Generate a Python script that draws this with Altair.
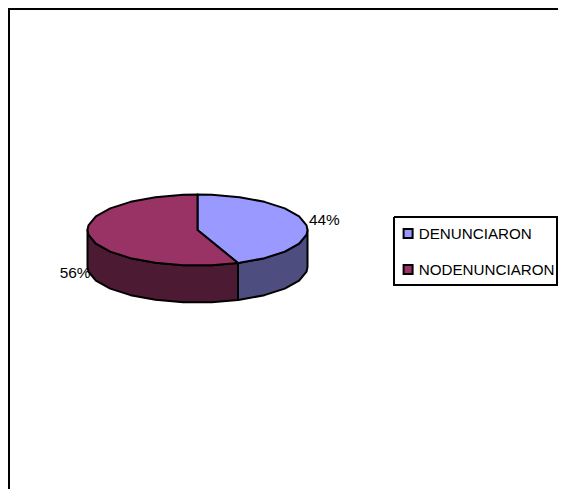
import math
import altair as alt

categories = ["DENUNCIARON", "NODENUNCIARON"]
shares = [44, 56]
labels = ["44%", "56%"]
top_colors = ["#9999FF", "#993366"]
wall_colors = ["#4D4D80", "#4D1A33"]

# layout, in page pixels
CX, CY, RX, RY, DEPTH = 197.5, 230, 110, 35.5, 37
STEP = 15


def pt(deg, dy=0):
    a = math.radians(deg)
    return [CX + RX * math.sin(a), CY - RY * math.cos(a) + dy]


def arc(a0, a1, dy=0):
    grid = sorted([STEP / 2 + STEP * k for k in range(24)] + [90, 270])
    angles = [a0] + [g for g in grid if a0 < g < a1] + [a1]
    return [pt(a, dy) for a in angles]


def feature(kind, coords, name, fill):
    return {"type": "Feature", "properties": {"name": name, "fill": fill},
            "geometry": {"type": kind, "coordinates": coords}}


bounds = [0]
for s in shares:
    bounds.append(bounds[-1] + s * 3.6)

tops = []
walls = []
for i, name in enumerate(categories):
    a0, a1 = bounds[i], bounds[i + 1]
    ring = [[CX, CY]] + arc(a0, a1) + [[CX, CY]]
    tops.append(feature("Polygon", [ring], name, top_colors[i]))
    w0, w1 = max(a0, 90), min(a1, 270)
    wall = arc(w0, w1) + arc(w0, w1, DEPTH)[::-1]
    wall.append(wall[0])
    walls.append(feature("Polygon", [wall], name, wall_colors[i]))

frame = [
    feature("LineString", [[9, 489], [9, 9], [558, 9]], "frame", "none"),
    feature("LineString", [[394, 217], [557, 217], [557, 285], [394, 285], [394, 217]], "box", "none"),
]

label_rows = [
    {"t": labels[0], "lon": 309, "lat": 220},
    {"t": labels[1], "lon": 90.5, "lat": 273},
]

proj = dict(type="identity", scale=1, translate=[-8, -8])


def geo(features):
    return alt.InlineData(values=features, format=alt.DataFormat(type="json"))


frame_layer = alt.Chart(geo(frame)).mark_geoshape(filled=False, stroke="#000000", strokeWidth=2).project(**proj)
wall_layer = alt.Chart(geo(walls)).mark_geoshape(stroke="#000000", strokeWidth=2, strokeJoin="round").encode(
    fill=alt.Fill("properties.fill:N", scale=None)
).project(**proj)
top_layer = alt.Chart(geo(tops)).mark_geoshape(stroke="#000000", strokeWidth=2, strokeJoin="round").encode(
    fill=alt.Fill(
        "properties.name:N",
        scale=alt.Scale(domain=categories, range=top_colors),
        legend=alt.Legend(
            title=None, orient="none", legendX=392.5, legendY=218,
            symbolType="square", symbolSize=81, symbolStrokeColor="#000000", symbolStrokeWidth=2,
            labelFont="Liberation Sans", labelFontSize=15.2, labelColor="#000000",
            rowPadding=18, labelOffset=3, labelLimit=200,
        ),
    )
).project(**proj)
left_text = alt.Chart(alt.Data(values=[label_rows[0]])).mark_text(
    align="left", baseline="middle", font="Liberation Sans", fontSize=15.4, color="#000000"
).encode(longitude="lon:Q", latitude="lat:Q", text="t:N").project(**proj)
right_text = alt.Chart(alt.Data(values=[label_rows[1]])).mark_text(
    align="right", baseline="middle", font="Liberation Sans", fontSize=15.4, color="#000000"
).encode(longitude="lon:Q", latitude="lat:Q", text="t:N").project(**proj)

chart = alt.layer(frame_layer, wall_layer, top_layer, left_text, right_text).resolve_scale(
    fill="independent"
).properties(
    width=550, height=481, padding=0, autosize=alt.AutoSizeParams(type="none"), background="#FFFFFF"
).configure_view(stroke=None)

chart.save("out.html", embed_options={"renderer": "svg", "actions": False})
